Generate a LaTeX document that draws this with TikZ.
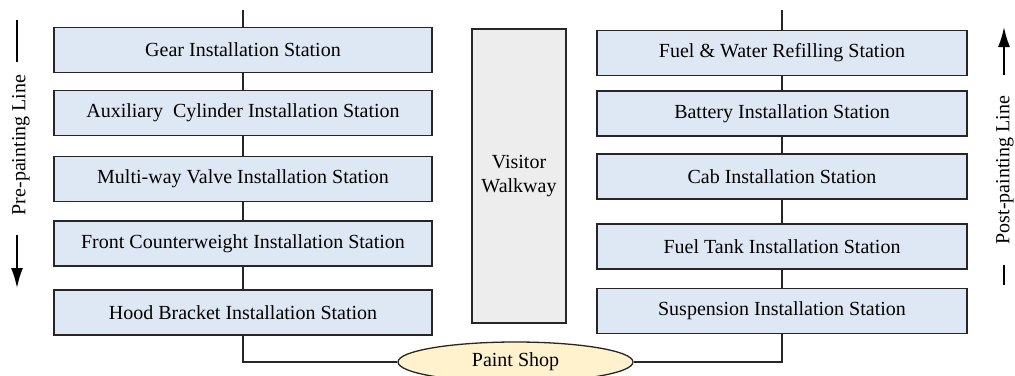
\documentclass[tikz,border=0pt]{standalone}
\usepackage{fontspec}
\setmainfont{Liberation Serif}
\usetikzlibrary{shapes.geometric,arrows.meta}
\definecolor{boxblue}{HTML}{DEE8F4}
\definecolor{walkgray}{HTML}{EDEDED}
\definecolor{shopyellow}{HTML}{FFF2CC}
\begin{document}
\begin{tikzpicture}[x=0.5pt,y=-0.5pt,
  stbox/.style={draw=black!85,line width=0.65pt,fill=boxblue,minimum height=22.5pt,inner sep=0pt,font=\fontsize{10}{12}\selectfont},
  lbox/.style={stbox,minimum width=189pt},
  rbox/.style={stbox,minimum width=185pt},
  conn/.style={draw=black!85,line width=0.55pt},
  lab/.style={font=\fontsize{10}{12}\selectfont,rotate=90},
  dirarrow/.style={line width=0.9pt,-{Latex[length=10pt,width=6pt]}}]
\clip (0,0) rectangle (1015,375);
\fill[white] (0,0) rectangle (1015,375);
% left column
\node[lbox] (L1) at (243,50) {Gear Installation Station};
\node[lbox] (L2) at (243,113) {Auxiliary\ \ Cylinder Installation Station};
\node[lbox] (L3) at (243,179) {Multi-way Valve Installation Station};
\node[lbox] (L4) at (243,243.5) {Front Counterweight Installation Station};
\node[lbox] (L5) at (243,312.5) {Hood Bracket Installation Station};
% right column
\node[rbox] (R1) at (782,53) {Fuel \& Water Refilling Station};
\node[rbox] (R2) at (782,113.5) {Battery Installation Station};
\node[rbox] (R3) at (782,176.5) {Cab Installation Station};
\node[rbox] (R4) at (782,246.5) {Fuel Tank Installation Station};
\node[rbox] (R5) at (782,311) {Suspension Installation Station};
% walkway
\node[draw=black!85,line width=0.65pt,fill=walkgray,minimum width=47pt,minimum height=147pt,inner sep=0pt,align=center,font=\fontsize{10}{12}\selectfont] (W) at (519,176) {Visitor\\Walkway};
% paint shop
\node[ellipse,draw=black!85,line width=0.65pt,fill=shopyellow,minimum width=117.5pt,minimum height=20pt,inner sep=0pt,font=\fontsize{10}{12}\selectfont] (PS) at (515.5,362) {Paint Shop};
% connectors
\coordinate (LT) at (243,10);
\coordinate (RT) at (782,10);
\draw[conn] (LT) -- (L1.north);
\draw[conn] (L1) -- (L2);
\draw[conn] (L2) -- (L3);
\draw[conn] (L3) -- (L4);
\draw[conn] (L4) -- (L5);
\draw[conn] (L5.south) |- (PS.west);
\draw[conn] (RT) -- (R1.north);
\draw[conn] (R1) -- (R2);
\draw[conn] (R2) -- (R3);
\draw[conn] (R3) -- (R4);
\draw[conn] (R4) -- (R5);
\draw[conn] (R5.south) |- (PS.east);
% direction labels
\node[lab] (PreL) at (21,145) {Pre-painting Line};
\node[lab] (PostL) at (1005,170) {Post-painting Line};
\coordinate (la1) at (17,20);
\coordinate (la2) at (17,62);
\coordinate (la3) at (17,235);
\coordinate (la4) at (17,288);
\draw[line width=0.9pt] (la1) -- (la2);
\draw[dirarrow] (la3) -- (la4);
\coordinate (ra1) at (1004,75);
\coordinate (ra2) at (1004,27);
\coordinate (ra3) at (1004,265);
\coordinate (ra4) at (1004,285);
\draw[dirarrow] (ra1) -- (ra2);
\draw[line width=0.9pt] (ra3) -- (ra4);
\end{tikzpicture}
\end{document}
